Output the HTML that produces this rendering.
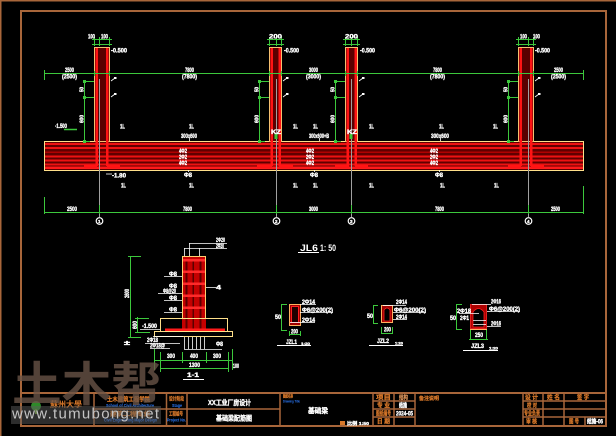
<!DOCTYPE html>
<html><head><meta charset="utf-8">
<style>
html,body{margin:0;padding:0;background:#000;overflow:hidden}
svg{display:block}
text{font-family:"Liberation Sans","Noto Sans CJK SC",sans-serif}
.w{fill:#fff;font-size:6px;font-weight:bold;stroke:#fff;stroke-width:0.35}
.o{fill:#d8782a;font-size:6px;font-weight:bold;stroke:#d8782a;stroke-width:0.25}
.b{fill:#2c7cff;font-size:4.5px;font-weight:bold}
.g{stroke:#3cc83c;stroke-width:1;fill:none}
.l{stroke:#fff;stroke-width:0.8;fill:none}
.f{stroke:#a8663a;fill:none}
.ax{stroke:#a0a0a0;stroke-width:1}
</style></head><body>
<svg width="616" height="436" viewBox="0 0 616 436" xmlns="http://www.w3.org/2000/svg">
<rect width="616" height="436" fill="#000"/>

<!-- frames -->
<path class="f" d="M0.75 436 V0.75 H616" stroke-width="1.5"/>
<rect class="f" x="21" y="11" width="585" height="415" stroke-width="2"/>

<!-- ================= BEAM ELEVATION ================= -->
<rect x="44.5" y="141.5" width="539" height="29" fill="#600000" stroke="#ffe08a" stroke-width="1"/>
<g fill="#ee1212">
<rect x="45" y="143" width="538" height="2"/>
<rect x="45" y="147" width="538" height="2"/>
<rect x="45" y="151.5" width="538" height="1.5" fill="#b00000"/>
<rect x="45" y="155.5" width="538" height="2"/>
<rect x="45" y="159.5" width="538" height="2"/>
<rect x="45" y="163.5" width="538" height="2"/>
<rect x="45" y="166.5" width="538" height="2.5" fill="#ff1a1a"/>
</g>

<!-- columns -->
<g>
<rect x="94.5" y="47.5" width="15" height="94" fill="#5a0000" stroke="#f5c070"/>
<rect x="95.5" y="48" width="2.5" height="118" fill="#ff1414"/>
<rect x="106" y="48" width="2.5" height="118" fill="#ff1414"/>
<rect x="84" y="165" width="13" height="3" fill="#ff1414"/>
<rect x="107" y="165" width="13" height="3" fill="#ff1414"/>

<rect x="269.5" y="47.5" width="12" height="94" fill="#5a0000" stroke="#f5c070"/>
<rect x="270.5" y="48" width="2.5" height="118" fill="#ff1414"/>
<rect x="278.5" y="48" width="2.5" height="118" fill="#ff1414"/>
<rect x="257" y="165" width="15" height="3" fill="#ff1414"/>
<rect x="279" y="165" width="14" height="3" fill="#ff1414"/>

<rect x="345.5" y="47.5" width="12" height="94" fill="#5a0000" stroke="#f5c070"/>
<rect x="346.5" y="48" width="2.5" height="118" fill="#ff1414"/>
<rect x="354.5" y="48" width="2.5" height="118" fill="#ff1414"/>
<rect x="335" y="165" width="14" height="3" fill="#ff1414"/>
<rect x="355" y="165" width="13" height="3" fill="#ff1414"/>

<rect x="518.5" y="47.5" width="15" height="94" fill="#5a0000" stroke="#f5c070"/>
<rect x="519.5" y="48" width="2.5" height="118" fill="#ff1414"/>
<rect x="530" y="48" width="2.5" height="118" fill="#ff1414"/>
<rect x="508" y="165" width="13" height="3" fill="#ff1414"/>
<rect x="531" y="165" width="13" height="3" fill="#ff1414"/>
</g>

<!-- axis lines & circles -->
<g class="ax">
<line x1="99.5" y1="79" x2="99.5" y2="217"/>
<line x1="276.5" y1="79" x2="276.5" y2="217"/>
<line x1="351.5" y1="79" x2="351.5" y2="217"/>
<line x1="528.5" y1="79" x2="528.5" y2="217"/>
</g>
<g stroke="#fff" stroke-width="1.2" fill="none">
<circle cx="99.5" cy="221" r="3.3"/>
<circle cx="276.5" cy="221" r="3.3"/>
<circle cx="351.5" cy="221" r="3.3"/>
<circle cx="528.5" cy="221" r="3.3"/>
</g>
<g class="w" style="font-size:4.5px">
<text x="98" y="222.8">1</text><text x="275" y="222.8">2</text><text x="350" y="222.8">3</text><text x="527" y="222.8">4</text>
</g>

<!-- green dims top -->
<g class="g">
<line x1="44" y1="73.5" x2="584" y2="73.5"/>
<line x1="44.5" y1="70" x2="44.5" y2="80"/>
<line x1="583.5" y1="70" x2="583.5" y2="80"/>
<line x1="94.5" y1="71" x2="94.5" y2="76"/><line x1="109.5" y1="71" x2="109.5" y2="76"/>
<line x1="269.5" y1="71" x2="269.5" y2="76"/><line x1="281.5" y1="71" x2="281.5" y2="76"/>
<line x1="345.5" y1="71" x2="345.5" y2="76"/><line x1="357.5" y1="71" x2="357.5" y2="76"/>
<line x1="518.5" y1="71" x2="518.5" y2="76"/><line x1="533.5" y1="71" x2="533.5" y2="76"/>
<path d="M92 39.5H112M92 44.5H112M94.5 37V46M99.5 37V46M109.5 37V46"/>
<path d="M267 39.5H284M267 44.5H284M269.5 37V46M276.5 37V46M281.5 37V46"/>
<path d="M343 39.5H360M343 44.5H360M345.5 37V46M351.5 37V46M357.5 37V46"/>
<path d="M516 39.5H536M516 44.5H536M518.5 37V46M528.5 37V46M533.5 37V46"/>
<path d="M84.5 81V141M84.5 81.5H94M84.5 97.5H94M84.5 141.5H90"/>
<path d="M259.5 81V141M259.5 81.5H269M259.5 97.5H269M259.5 141.5H265"/>
<path d="M335.5 81V141M335.5 81.5H345M335.5 97.5H345M335.5 141.5H341"/>
<path d="M508.5 81V141M508.5 81.5H518M508.5 97.5H518M508.5 141.5H514"/>
<line x1="44" y1="212.5" x2="584" y2="212.5"/>
<line x1="44.5" y1="197" x2="44.5" y2="214"/>
<line x1="583.5" y1="186" x2="583.5" y2="214"/>
<line x1="99.5" y1="205" x2="99.5" y2="214"/>
<line x1="276.5" y1="205" x2="276.5" y2="214"/>
<line x1="351.5" y1="205" x2="351.5" y2="214"/>
<line x1="528.5" y1="205" x2="528.5" y2="214"/>
<line x1="64" y1="129.5" x2="77" y2="129.5" stroke-width="1.5"/>
</g>
<g fill="#3cc83c">
<rect x="274.5" y="134" width="3" height="5"/>
<rect x="349.5" y="134" width="3" height="5"/>
<rect x="83" y="80" width="3" height="3"/><rect x="83" y="96" width="3" height="3"/><rect x="83" y="140" width="3" height="3"/>
<rect x="258" y="80" width="3" height="3"/><rect x="258" y="96" width="3" height="3"/><rect x="258" y="140" width="3" height="3"/>
<rect x="334" y="80" width="3" height="3"/><rect x="334" y="96" width="3" height="3"/><rect x="334" y="140" width="3" height="3"/>
<rect x="507" y="80" width="3" height="3"/><rect x="507" y="96" width="3" height="3"/><rect x="507" y="140" width="3" height="3"/>
</g>

<!-- leader marks beside columns -->
<g class="l">
<path d="M111 81L115 78M111 97L115 94"/>
<path d="M283 81L287 78M283 97L287 94"/>
<path d="M359 81L363 78M359 97L363 94"/>
<path d="M535 81L539 78M535 97L539 94"/>
<path d="M189.5 138V141M319.5 138V141M440.5 138V141"/>
<path d="M188.5 170V172M314.5 170V172M439.5 170V172"/>
<path d="M106 174H112"/>
</g>
<g fill="#fff">
<rect x="114" y="77" width="2.5" height="2"/><rect x="114" y="93" width="2.5" height="2"/>
<rect x="286" y="77" width="2.5" height="2"/><rect x="286" y="93" width="2.5" height="2"/>
<rect x="362" y="77" width="2.5" height="2"/><rect x="362" y="93" width="2.5" height="2"/>
<rect x="538" y="77" width="2.5" height="2"/><rect x="538" y="93" width="2.5" height="2"/>
</g>

<!-- white labels top part -->
<g class="w">
<text x="88" y="38.5" textLength="7" lengthAdjust="spacingAndGlyphs">100</text>
<text x="101" y="38.5" textLength="7" lengthAdjust="spacingAndGlyphs">100</text>
<text x="269" y="38.5" textLength="13" lengthAdjust="spacingAndGlyphs">200</text>
<text x="345" y="38.5" textLength="13" lengthAdjust="spacingAndGlyphs">200</text>
<text x="520" y="38.5" textLength="7" lengthAdjust="spacingAndGlyphs">100</text>
<text x="533" y="38.5" textLength="7" lengthAdjust="spacingAndGlyphs">100</text>

<text x="111" y="52.5" textLength="16" lengthAdjust="spacingAndGlyphs">-0.500</text>
<text x="284" y="52.5" textLength="15" lengthAdjust="spacingAndGlyphs">-0.500</text>
<text x="360" y="52.5" textLength="15" lengthAdjust="spacingAndGlyphs">-0.500</text>
<text x="535" y="52.5" textLength="15" lengthAdjust="spacingAndGlyphs">-0.500</text>

<text x="65" y="72" textLength="9" lengthAdjust="spacingAndGlyphs">2500</text>
<text x="62" y="78.5" textLength="15" lengthAdjust="spacingAndGlyphs">(2500)</text>
<text x="185" y="72" textLength="9" lengthAdjust="spacingAndGlyphs">7800</text>
<text x="182" y="78.5" textLength="15" lengthAdjust="spacingAndGlyphs">(7800)</text>
<text x="309" y="72" textLength="9" lengthAdjust="spacingAndGlyphs">3000</text>
<text x="306" y="78.5" textLength="15" lengthAdjust="spacingAndGlyphs">(3000)</text>
<text x="433" y="72" textLength="9" lengthAdjust="spacingAndGlyphs">7800</text>
<text x="430" y="78.5" textLength="15" lengthAdjust="spacingAndGlyphs">(7800)</text>
<text x="554" y="72" textLength="9" lengthAdjust="spacingAndGlyphs">2500</text>
<text x="551" y="78.5" textLength="15" lengthAdjust="spacingAndGlyphs">(2500)</text>

<text x="55" y="128" textLength="12" lengthAdjust="spacingAndGlyphs">-1.500</text>

<text x="120" y="128.5" textLength="5" lengthAdjust="spacingAndGlyphs">1L</text>
<text x="189" y="128.5" textLength="5" lengthAdjust="spacingAndGlyphs">1L</text>
<text x="293" y="128.5" textLength="5" lengthAdjust="spacingAndGlyphs">1L</text>
<text x="313" y="128.5" textLength="5" lengthAdjust="spacingAndGlyphs">1L</text>
<text x="369" y="128.5" textLength="5" lengthAdjust="spacingAndGlyphs">1L</text>
<text x="439" y="128.5" textLength="5" lengthAdjust="spacingAndGlyphs">1L</text>
<text x="493" y="128.5" textLength="5" lengthAdjust="spacingAndGlyphs">1L</text>

<text x="181" y="138" textLength="16" lengthAdjust="spacingAndGlyphs">300x600</text>
<text x="309" y="138" textLength="20" lengthAdjust="spacingAndGlyphs">300x600+B</text>
<text x="431" y="138" textLength="18" lengthAdjust="spacingAndGlyphs">300x600</text>
<text x="271" y="134" textLength="10" lengthAdjust="spacingAndGlyphs">KZ</text>
<text x="347" y="134" textLength="10" lengthAdjust="spacingAndGlyphs">KZ</text>

<text x="179" y="153" textLength="8" lengthAdjust="spacingAndGlyphs">4Φ2</text>
<text x="179" y="159" textLength="8" lengthAdjust="spacingAndGlyphs">2Φ2</text>
<text x="179" y="165" textLength="8" lengthAdjust="spacingAndGlyphs">4Φ2</text>
<text x="306" y="153" textLength="8" lengthAdjust="spacingAndGlyphs">4Φ2</text>
<text x="306" y="159" textLength="8" lengthAdjust="spacingAndGlyphs">2Φ2</text>
<text x="306" y="165" textLength="8" lengthAdjust="spacingAndGlyphs">4Φ2</text>
<text x="430" y="153" textLength="8" lengthAdjust="spacingAndGlyphs">4Φ2</text>
<text x="430" y="159" textLength="8" lengthAdjust="spacingAndGlyphs">2Φ2</text>
<text x="430" y="165" textLength="8" lengthAdjust="spacingAndGlyphs">4Φ2</text>

<text x="184" y="177" textLength="8" lengthAdjust="spacingAndGlyphs">Φ8</text>
<text x="310" y="177" textLength="8" lengthAdjust="spacingAndGlyphs">Φ8</text>
<text x="435" y="177" textLength="8" lengthAdjust="spacingAndGlyphs">Φ8</text>
<text x="112" y="177.5" textLength="14" lengthAdjust="spacingAndGlyphs">-1.80</text>

<text x="121" y="187.5" textLength="5" lengthAdjust="spacingAndGlyphs">1L</text>
<text x="189" y="187.5" textLength="5" lengthAdjust="spacingAndGlyphs">1L</text>
<text x="293" y="187.5" textLength="5" lengthAdjust="spacingAndGlyphs">1L</text>
<text x="313" y="187.5" textLength="5" lengthAdjust="spacingAndGlyphs">1L</text>
<text x="369" y="187.5" textLength="5" lengthAdjust="spacingAndGlyphs">1L</text>
<text x="440" y="187.5" textLength="5" lengthAdjust="spacingAndGlyphs">1L</text>
<text x="494" y="187.5" textLength="5" lengthAdjust="spacingAndGlyphs">1L</text>

<text x="67" y="211" textLength="10" lengthAdjust="spacingAndGlyphs">2500</text>
<text x="183" y="211" textLength="9" lengthAdjust="spacingAndGlyphs">7800</text>
<text x="309" y="211" textLength="9" lengthAdjust="spacingAndGlyphs">3000</text>
<text x="435" y="211" textLength="9" lengthAdjust="spacingAndGlyphs">7800</text>
<text x="551" y="211" textLength="9" lengthAdjust="spacingAndGlyphs">2500</text>
</g>
<g class="w" style="font-size:5px">
<text transform="translate(83.5,92) rotate(-90)" textLength="5" lengthAdjust="spacingAndGlyphs">50</text>
<text transform="translate(83.5,123) rotate(-90)" textLength="8" lengthAdjust="spacingAndGlyphs">600</text>
<text transform="translate(258.5,92) rotate(-90)" textLength="5" lengthAdjust="spacingAndGlyphs">50</text>
<text transform="translate(258.5,123) rotate(-90)" textLength="8" lengthAdjust="spacingAndGlyphs">600</text>
<text transform="translate(334.5,92) rotate(-90)" textLength="5" lengthAdjust="spacingAndGlyphs">50</text>
<text transform="translate(334.5,123) rotate(-90)" textLength="8" lengthAdjust="spacingAndGlyphs">600</text>
<text transform="translate(507.5,92) rotate(-90)" textLength="5" lengthAdjust="spacingAndGlyphs">50</text>
<text transform="translate(507.5,123) rotate(-90)" textLength="8" lengthAdjust="spacingAndGlyphs">600</text>
</g>

<!-- ================= JL6 title ================= -->
<text x="300" y="251" style="fill:#fff;font-size:9px;font-weight:bold" textLength="18" lengthAdjust="spacingAndGlyphs">JL6</text>
<text x="320" y="251" style="fill:#fff;font-size:9px;font-weight:bold" textLength="16" lengthAdjust="spacingAndGlyphs">1: 50</text>
<line x1="298" y1="252.5" x2="319" y2="252.5" stroke="#fff" stroke-width="1"/>

<!-- ================= SECTION 1-1 ================= -->
<rect x="182" y="256" width="24" height="75" fill="#c40000"/>
<g fill="#5a0000">
<rect x="185.5" y="259" width="2" height="70"/>
<rect x="192.5" y="259" width="1.5" height="70"/>
<rect x="199.5" y="259" width="2" height="70"/>
</g>
<g fill="#ff2a2a">
<rect x="183" y="259" width="22" height="2.5"/>
<rect x="183" y="270.5" width="22" height="2.5"/>
<rect x="183" y="282.5" width="22" height="2.5"/>
<rect x="183" y="294.5" width="22" height="2.5"/>
<rect x="183" y="306.5" width="22" height="2.5"/>
<rect x="165" y="328.5" width="60" height="2.5" fill="#ff1a1a"/>
</g>
<rect x="182.5" y="256.5" width="23" height="62" fill="none" stroke="#ffd070"/>
<rect x="160.5" y="318.5" width="67" height="13" fill="none" stroke="#ffe08a"/>
<rect x="154.5" y="331.5" width="78" height="5" fill="none" stroke="#ffe08a"/>

<g class="l">
<path d="M184.5 248V256M189.5 243V256M199.5 248V256"/>
<path d="M189 243.5H227M184 248.5H227"/>
<path d="M164 276.5H182M158 293.5H182M164 300.5H182M164 312.5H182M206 287.5H216"/>
<path d="M184.5 337V349M188.5 337V349M192.5 337V349M196.5 337V349M200.5 337V349M204.5 337V349M184 349.5H222"/>
<path d="M153 336.5H183M145 343.5H180M150 348.5H170"/>
<path d="M140 329.5H160"/>
</g>
<g class="g">
<path d="M130.5 256V337M128 256.5H141M128 337.5H141"/>
<path d="M137.5 317V332M135 318.5H149M135 332.5H150"/>
<path d="M154 360.5H233M160 368.5H228"/>
<path d="M154.5 349V370M160.5 352V372M182.5 352V363M206.5 352V363M228.5 352V372M232.5 349V370"/>
</g>
<g class="w">
<text x="216" y="242" textLength="9" lengthAdjust="spacingAndGlyphs">2Φ20</text>
<text x="216" y="248" textLength="8" lengthAdjust="spacingAndGlyphs">2Φ20</text>
<text x="169" y="276" textLength="8" lengthAdjust="spacingAndGlyphs">Φ8</text>
<text x="169" y="288" textLength="8" lengthAdjust="spacingAndGlyphs">Φ8</text>
<text x="163" y="293" textLength="13" lengthAdjust="spacingAndGlyphs">Φ8@20</text>
<text x="169" y="300" textLength="8" lengthAdjust="spacingAndGlyphs">Φ8</text>
<text x="169" y="311.5" textLength="8" lengthAdjust="spacingAndGlyphs">Φ8</text>
<text x="216" y="289.5" textLength="5" lengthAdjust="spacingAndGlyphs">4</text>
<text x="216" y="346" textLength="7" lengthAdjust="spacingAndGlyphs">Φ8</text>
<text x="147" y="342" textLength="11" lengthAdjust="spacingAndGlyphs">2Φ18</text>
<text x="150" y="347.5" textLength="15" lengthAdjust="spacingAndGlyphs">2Φ18@</text>
<text x="142" y="328" textLength="15" lengthAdjust="spacingAndGlyphs">-1.500</text>
<text x="124" y="345" textLength="6" lengthAdjust="spacingAndGlyphs">±</text>
<text x="167" y="358" textLength="8" lengthAdjust="spacingAndGlyphs">300</text>
<text x="190" y="358" textLength="8" lengthAdjust="spacingAndGlyphs">400</text>
<text x="213" y="358" textLength="8" lengthAdjust="spacingAndGlyphs">300</text>
<text x="189" y="367" textLength="11" lengthAdjust="spacingAndGlyphs">1300</text>
<text x="233" y="368" textLength="6" lengthAdjust="spacingAndGlyphs">100</text>
<text x="187" y="377" textLength="12" lengthAdjust="spacingAndGlyphs">1-1</text>
<text transform="translate(129,298) rotate(-90)" textLength="9" lengthAdjust="spacingAndGlyphs">2600</text>
<text transform="translate(137,329) rotate(-90)" textLength="8" lengthAdjust="spacingAndGlyphs">600</text>
</g>
<line x1="183" y1="379.5" x2="204" y2="379.5" stroke="#fff" stroke-width="1"/>

<!-- ================= SMALL SECTIONS ================= -->
<rect x="289.5" y="304.5" width="11" height="21" fill="#a00000" stroke="#ffb060"/>
<rect x="291.5" y="306.5" width="7" height="16" fill="#200000" stroke="#ff2020"/>
<line x1="290" y1="322.5" x2="300" y2="322.5" stroke="#fff" stroke-width="0.8"/>
<g class="g">
<path d="M281.5 304V330M281 304.5H287M281 330.5H287"/>
<path d="M289 334.5H301M289.5 331V336M300.5 331V336"/>
</g>
<g class="l"><path d="M300 304.5H316M300 312.5H333M300 322.5H315"/></g>
<g class="w">
<text x="275" y="319" textLength="6" lengthAdjust="spacingAndGlyphs">50</text>
<text x="291" y="333.5" textLength="7" lengthAdjust="spacingAndGlyphs">200</text>
<text x="302" y="304" textLength="13" lengthAdjust="spacingAndGlyphs">2Φ14</text>
<text x="302" y="312" textLength="31" lengthAdjust="spacingAndGlyphs">Φ6@200(2)</text>
<text x="302" y="322" textLength="13" lengthAdjust="spacingAndGlyphs">2Φ14</text>
<text x="286" y="344" textLength="11" lengthAdjust="spacingAndGlyphs">JZL1</text>
<text x="301" y="345" style="font-size:4px" textLength="9" lengthAdjust="spacingAndGlyphs">1:20</text>
</g>
<line x1="277" y1="345.5" x2="311" y2="345.5" stroke="#fff" stroke-width="1"/>

<rect x="381.5" y="305.5" width="11" height="17" fill="#a00000" stroke="#ffb060"/>
<path d="M384 321V310Q387 306 390 310V321Z" fill="#000" stroke="#ff2020" stroke-width="0.8"/>
<g class="g">
<path d="M373.5 305V324M373 305.5H378M373 323.5H378"/>
<path d="M381 333.5H393M381.5 327V334M392.5 327V334"/>
</g>
<g class="l"><path d="M383 305.5H406M393 312.5H426M393 319.5H407"/></g>
<g class="w">
<text x="367" y="318" textLength="6" lengthAdjust="spacingAndGlyphs">50</text>
<text x="384" y="331.5" textLength="7" lengthAdjust="spacingAndGlyphs">200</text>
<text x="396" y="304" textLength="11" lengthAdjust="spacingAndGlyphs">2Φ14</text>
<text x="394" y="312" textLength="32" lengthAdjust="spacingAndGlyphs">Φ6@200(2)</text>
<text x="396" y="319" textLength="11" lengthAdjust="spacingAndGlyphs">2Φ14</text>
<text x="377" y="343" textLength="12" lengthAdjust="spacingAndGlyphs">JZL2</text>
<text x="395" y="344.5" style="font-size:4px" textLength="8" lengthAdjust="spacingAndGlyphs">1:20</text>
</g>
<line x1="369" y1="345.5" x2="403" y2="345.5" stroke="#fff" stroke-width="1"/>

<rect x="470.5" y="304.5" width="16" height="24" fill="#b00000" stroke="#e02020"/>
<path d="M473 327V312Q478.5 305 484 312V327Z" fill="#000" stroke="#ff2020" stroke-width="0.8"/>
<line x1="470" y1="329.5" x2="487" y2="329.5" stroke="#ffb060" stroke-width="1"/>
<g class="g">
<path d="M456.5 304V330M456 304.5H462M456 329.5H462"/>
<path d="M469 339.5H488M470.5 330V340M486.5 330V340"/>
</g>
<g class="l"><path d="M472 304.5H491M459 313.5H479M487 311.5H520M473 320.5H486M473 324.5H486M487 326.5H501"/></g>
<g class="w">
<text x="450" y="320" textLength="6" lengthAdjust="spacingAndGlyphs">50</text>
<text x="457" y="313" textLength="14" lengthAdjust="spacingAndGlyphs">2Φ18</text>
<text x="460" y="320" textLength="9" lengthAdjust="spacingAndGlyphs">2Φ1</text>
<text x="475" y="337" textLength="8" lengthAdjust="spacingAndGlyphs">250</text>
<text x="491" y="303.5" textLength="10" lengthAdjust="spacingAndGlyphs">2Φ16</text>
<text x="489" y="311" textLength="31" lengthAdjust="spacingAndGlyphs">Φ6@200(2)</text>
<text x="491" y="325.5" textLength="10" lengthAdjust="spacingAndGlyphs">2Φ16</text>
<text x="471" y="348" textLength="13" lengthAdjust="spacingAndGlyphs">JZL3</text>
<text x="489" y="349.5" style="font-size:4px" textLength="9" lengthAdjust="spacingAndGlyphs">1:20</text>
</g>
<line x1="463" y1="350.5" x2="498" y2="350.5" stroke="#fff" stroke-width="1"/>

<!-- ================= TITLE BLOCK ================= -->
<g class="f" stroke-width="1.5">
<line x1="21" y1="393" x2="606" y2="393" stroke-width="2"/>
<line x1="94" y1="393" x2="94" y2="426"/>
<line x1="166.5" y1="393" x2="166.5" y2="426"/>
<line x1="187" y1="393" x2="187" y2="426"/>
<line x1="280" y1="393" x2="280" y2="426"/>
<line x1="373" y1="393" x2="373" y2="426"/>
<line x1="394" y1="393" x2="394" y2="426"/>
<line x1="415" y1="393" x2="415" y2="426"/>
<line x1="523" y1="393" x2="523" y2="426"/>
<line x1="543" y1="393" x2="543" y2="426"/>
<line x1="564" y1="393" x2="564" y2="426"/>
<line x1="585" y1="417" x2="585" y2="426"/>
<line x1="94" y1="409" x2="280" y2="409"/>
<path d="M373 401H415M373 409H415M373 417H415M523 401H606M523 409H606M523 417H606"/>
</g>

<circle cx="36" cy="406" r="5" fill="#2e8a2a"/>
<rect x="35" y="409" width="2" height="5" fill="#6a9a30"/>
<text x="50" y="407" style="fill:#d8782a;font-size:8px;font-weight:bold;font-family:'Noto Sans CJK SC',sans-serif" textLength="32" lengthAdjust="spacingAndGlyphs">蘇州大學</text>

<g class="o">
<text x="107" y="401.5" textLength="43" lengthAdjust="spacingAndGlyphs">土木建筑工程学院</text>
<text x="110" y="416" textLength="40" lengthAdjust="spacingAndGlyphs">建筑工程专业</text>
<text x="169" y="400.5" style="font-size:5px" textLength="15" lengthAdjust="spacingAndGlyphs">设计阶段</text>
<text x="169" y="415.5" style="font-size:5px" textLength="14" lengthAdjust="spacingAndGlyphs">工程编号</text>
<text x="283" y="397.5" style="font-size:4px" textLength="10" lengthAdjust="spacingAndGlyphs">图纸名称</text>
<text x="376" y="399.5" textLength="15" lengthAdjust="spacingAndGlyphs">项目</text>
<text x="377" y="407.5" textLength="13" lengthAdjust="spacingAndGlyphs">专 业</text>
<text x="376" y="415.5" textLength="15" lengthAdjust="spacingAndGlyphs">图纸编号</text>
<text x="377" y="423.5" textLength="13" lengthAdjust="spacingAndGlyphs">日 期</text>
<text x="399" y="399.5" style="fill:#d8b090" textLength="9" lengthAdjust="spacingAndGlyphs">结构</text>
<text x="419" y="400" style="font-size:5px" textLength="20" lengthAdjust="spacingAndGlyphs">备注说明</text>
<text x="525" y="399.5" textLength="13" lengthAdjust="spacingAndGlyphs">设 计</text>
<text x="527" y="407.5" textLength="10" lengthAdjust="spacingAndGlyphs">校 对</text>
<text x="524" y="415.5" textLength="16" lengthAdjust="spacingAndGlyphs">专业负责</text>
<text x="526" y="423.5" textLength="11" lengthAdjust="spacingAndGlyphs">审 核</text>
<text x="547" y="399.5" textLength="13" lengthAdjust="spacingAndGlyphs">姓 名</text>
<text x="577" y="399.5" textLength="12" lengthAdjust="spacingAndGlyphs">签 字</text>
<text x="569" y="423.5" textLength="10" lengthAdjust="spacingAndGlyphs">图 号</text>
</g>
<g class="b">
<text x="106" y="407" textLength="48" lengthAdjust="spacingAndGlyphs">School of Civil Architecture</text>
<text x="104" y="421.5" textLength="53" lengthAdjust="spacingAndGlyphs">Civil Engineering Major Design</text>
<text x="172" y="407" textLength="10" lengthAdjust="spacingAndGlyphs">Stage</text>
<text x="167" y="421.5" textLength="19" lengthAdjust="spacingAndGlyphs">Project No.</text>
<text x="283" y="402.5" style="font-size:4px" textLength="17" lengthAdjust="spacingAndGlyphs">Drawing Title</text>
</g>
<g class="w">
<text x="208" y="405" style="font-size:7px" textLength="43" lengthAdjust="spacingAndGlyphs">XX工业厂房设计</text>
<text x="216" y="420.5" style="font-size:7px" textLength="36" lengthAdjust="spacingAndGlyphs">基础梁配筋图</text>
<text x="308" y="413" style="font-size:7px" textLength="20" lengthAdjust="spacingAndGlyphs">基础梁</text>
<text x="347" y="425" style="font-size:4.5px" textLength="22" lengthAdjust="spacingAndGlyphs">比例 1:50</text>
<text x="399" y="407.5" textLength="8" lengthAdjust="spacingAndGlyphs">结施</text>
<text x="396" y="415.5" textLength="17" lengthAdjust="spacingAndGlyphs">2024-05</text>
<text x="587" y="423.5" textLength="16" lengthAdjust="spacingAndGlyphs">结施-06</text>
</g>
<rect x="340" y="421" width="5" height="4" fill="#d8782a"/>

<!-- ================= WATERMARK ================= -->
<text x="12" y="401" style="font-family:'Noto Sans CJK SC','WenQuanYi Zen Hei',sans-serif;font-size:47px;font-weight:bold;fill:#6a5448;fill-opacity:0.78" textLength="149" lengthAdjust="spacingAndGlyphs">土木帮</text>
<rect x="11" y="406" width="150" height="18" fill="#5a5a5a" fill-opacity="0.5"/>
<text x="12" y="418.5" style="font-size:15px;fill:#c4c4c4" textLength="147" lengthAdjust="spacing">www.tumubong.net</text>
</svg>
</body></html>
